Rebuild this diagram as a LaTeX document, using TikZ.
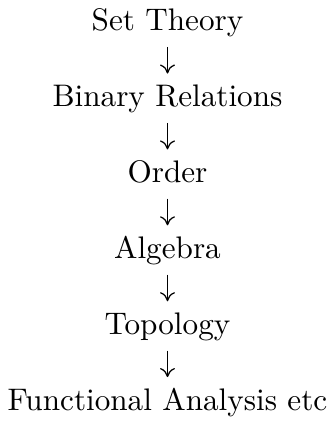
\documentclass[tikz,border=0pt]{standalone}
\usetikzlibrary{arrows.meta}
\begin{document}
\begin{tikzpicture}[x=0.3207pt, y=-0.3207pt,
  topic/.style={inner sep=0pt, outer sep=0pt, anchor=base, text height=7pt, text depth=2pt},
  link/.style={line width=0.4pt, -{Computer Modern Rightarrow[length=2.9pt,width=4.8pt]},
    shorten <=3.2pt, shorten >=3.6pt}]
\useasboundingbox (0,0) rectangle (335,423);
\node[topic] (a) at (167.5,30.7) {Set Theory};
\node[topic] (b) at (167.5,106.6) {Binary Relations};
\node[topic] (c) at (167.5,182.5) {Order};
\node[topic] (d) at (167.5,258.4) {Algebra};
\node[topic] (e) at (167.5,334.3) {Topology};
\node[topic] (f) at (167.5,410.2) {Functional Analysis etc};
\draw[link] (a) -- (b);
\draw[link] (b) -- (c);
\draw[link] (c) -- (d);
\draw[link] (d) -- (e);
\draw[link] (e) -- (f);
\end{tikzpicture}
\end{document}
